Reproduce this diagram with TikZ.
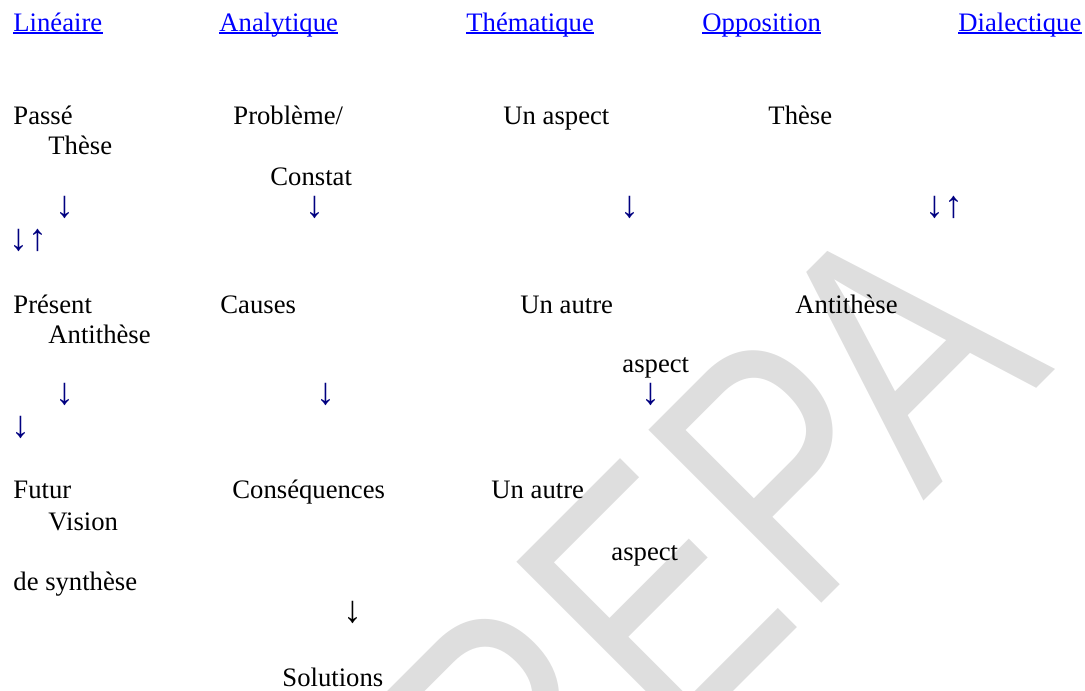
\documentclass[tikz,border=0pt]{standalone}
\usepackage{fontspec}
\setmainfont{Liberation Serif}
\newfontfamily\stampfont{Liberation Sans}
\usepackage{xcolor}
\definecolor{linkblue}{HTML}{0000FF}
\definecolor{arrownavy}{HTML}{000080}
\definecolor{stamp}{HTML}{DEDEDE}
\usepackage{tikz}
\tikzset{
  txt/.style={anchor=base west, inner sep=0pt, font=\fontsize{12}{14}\selectfont},
  hdr/.style={txt, text=linkblue},
  uline/.style={draw=linkblue, line width=0.8pt},
  arr/.style={inner sep=0pt, font=\fontsize{17}{19}\selectfont, text=arrownavy},
  wmark/.style={inner sep=0pt, text=stamp, font=\stampfont\fontsize{160}{160}\selectfont},
}

\begin{document}
\begin{tikzpicture}[x=0.45pt, y=-0.45pt]
  \useasboundingbox (0,0) rectangle (1085,690);
  % watermark, behind everything
  \begin{scope}
    \clip (0,0) rectangle (1085,690);
    \node[wmark, rotate=45] (prepa) at (640,612) {\scalebox{0.79}[1]{PREPA}};
  \end{scope}
  % column headings, underlined like links
  \foreach \n/\x/\word in {lin/13/Linéaire, ana/219/Analytique, them/466/Thématique,
      opp/702/Opposition, dial/958/Dialectique} {
    \node[hdr] (\n) at (\x,31) {\word};
    \draw[uline] ([yshift=-0.9pt]\n.base west) -- ([yshift=-0.9pt]\n.base east);
  }
  % first row
  \node[txt] (passe) at (13,124) {Passé};
  \node[txt] (these) at (48,154) {Thèse};
  \node[txt] (prob) at (233,124) {Problème/};
  \node[txt] (constat) at (270,185) {Constat};
  \node[txt] (aspA) at (503,124) {Un aspect};
  \node[txt] (theseO) at (768,124) {Thèse};
  \node[arr] (d1) at (64.5,207.5) {↓};
  \node[arr] (d2) at (314.5,207.5) {↓};
  \node[arr] (d3) at (630,207.5) {↓};
  \node[arr] (du1) at (944,207.5) {↓↑};
  \node[arr] (du2) at (28,240) {↓↑};
  % second row
  \node[txt] (present) at (13,313) {Présent};
  \node[txt] (anti) at (48,343) {Antithèse};
  \node[txt] (causes) at (220,313) {Causes};
  \node[txt] (autreA) at (520,313) {Un autre};
  \node[txt] (aspB) at (622,372) {aspect};
  \node[txt] (antiO) at (795,313) {Antithèse};
  \node[arr] (d4) at (64.5,394.5) {↓};
  \node[arr] (d5) at (325.5,394.5) {↓};
  \node[arr] (d6) at (651,394.5) {↓};
  \node[arr] (d7) at (20.5,427.5) {↓};
  % third row
  \node[txt] (futur) at (13,498) {Futur};
  \node[txt] (vision) at (48,530) {Vision};
  \node[txt] (synth) at (13,590) {de synthèse};
  \node[txt] (conseq) at (232,498) {Conséquences};
  \node[txt] (autreB) at (491,498) {Un autre};
  \node[txt] (aspC) at (611,560) {aspect};
  \node[arr, text=black] (d8) at (353,612.5) {↓};
  \node[txt] (solut) at (282,686) {Solutions};
\end{tikzpicture}
\end{document}
